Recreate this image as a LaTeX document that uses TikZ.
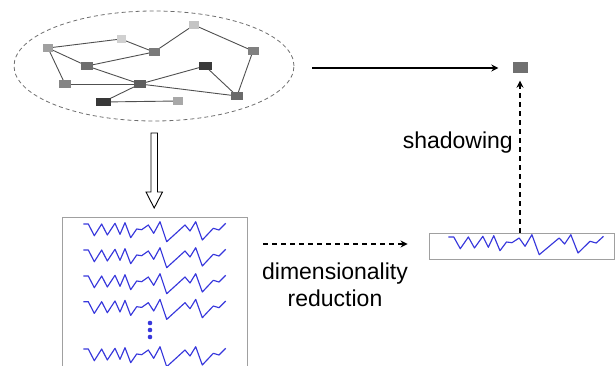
\documentclass[tikz,border=0pt]{standalone}
\usepackage{fontspec}
\setmainfont{Liberation Sans}
\usetikzlibrary{arrows.meta,calc,shapes.geometric,backgrounds}
\definecolor{serblue}{RGB}{55,55,220}
\definecolor{boxgray}{RGB}{160,160,160}
\definecolor{edgegray}{RGB}{80,80,80}
\definecolor{cloudgray}{RGB}{110,110,110}
\tikzset{
  gn/.style={rectangle, inner sep=0pt, minimum height=8.3pt, draw=none},
  edge/.style={draw=edgegray, line width=0.9pt},
  series/.style={draw=serblue, line width=1.15pt, line join=round},
  zig/.pic={\path[series] (0,0) -- (5,0) -- (11,11.7) -- (18.4,0) -- (24,11) -- (31.7,-0.7) -- (36.7,10.3) -- (41.7,-1.3) -- (47.4,13.7) -- (53.4,5) -- (58.4,5.7) -- (65,1) -- (70.4,9.3) -- (76.7,-2.3) -- (83.4,17.7) -- (101.7,1) -- (106.7,7) -- (112.4,-2.3) -- (119,16) -- (130,4.3) -- (135.7,6) -- (142.4,-0.7);},
  darrow/.style={black, line width=1.2pt, dash pattern=on 5pt off 4pt, -{Stealth[length=7pt,width=7pt]}},
  sarrow/.style={black, line width=1.2pt, -{Stealth[length=7pt,width=7pt]}},
  lbl/.style={font=\fontsize{23}{27}\selectfont, text=black, inner sep=0pt}
}
\begin{document}
\begin{tikzpicture}[x=1pt,y=-1pt]
\useasboundingbox (0,0) rectangle (615,366);
% cloud
\node[ellipse, draw=cloudgray, dash pattern=on 4pt off 3pt, line width=0.8pt, minimum width=280pt, minimum height=110pt, inner sep=0pt] (cloud) at (154,66) {};
% graph nodes
\node[gn, minimum width=10pt, fill={rgb,255:red,160;green,160;blue,160}] (n1) at (48,48) {};
\node[gn, minimum width=9pt, fill={rgb,255:red,208;green,208;blue,208}] (n2) at (121,39) {};
\node[gn, minimum width=11pt, fill={rgb,255:red,122;green,122;blue,122}] (n3) at (154,52) {};
\node[gn, minimum width=10pt, fill={rgb,255:red,196;green,196;blue,196}] (n4) at (194,25) {};
\node[gn, minimum width=11pt, fill={rgb,255:red,128;green,128;blue,128}] (n5) at (253,51) {};
\node[gn, minimum width=12.5pt, fill={rgb,255:red,110;green,110;blue,110}] (n6) at (87,66) {};
\node[gn, minimum width=13pt, fill={rgb,255:red,58;green,58;blue,58}] (n7) at (205,66) {};
\node[gn, minimum width=12pt, fill={rgb,255:red,133;green,133;blue,133}] (n8) at (65,84) {};
\node[gn, minimum width=11.5pt, fill={rgb,255:red,94;green,94;blue,94}] (n9) at (140,84) {};
\node[gn, minimum width=12pt, fill={rgb,255:red,106;green,106;blue,106}] (n10) at (237,96) {};
\node[gn, minimum width=15pt, fill={rgb,255:red,56;green,56;blue,56}] (n11) at (103,102) {};
\node[gn, minimum width=10.5pt, fill={rgb,255:red,168;green,168;blue,168}] (n12) at (178,101) {};
\begin{scope}[on background layer]
\foreach \a/\b in {n1/n2,n2/n3,n3/n4,n4/n5,n5/n10,n1/n6,n1/n8,n6/n3,n6/n9,n8/n9,n7/n9,n9/n10,n7/n10,n9/n11,n11/n12}
  \draw[edge] (\a.center) -- (\b.center);
\end{scope}
% target
\node[gn, minimum width=15pt, minimum height=11pt, fill={rgb,255:red,112;green,112;blue,112}] (target) at (520,68) {};
% hollow arrow
\draw[line width=0.9pt, fill=white, line join=miter] (151,133) -- (157.5,133) -- (157.5,192) -- (162.5,192) -- (154.2,208) -- (146,192) -- (151,192) -- cycle;
% big box
\node[draw=none, minimum width=184pt, minimum height=148pt, inner sep=0pt] (bigbox) at (155,292) {};
\draw[boxgray, line width=0.9pt] (bigbox.south west) -- (bigbox.north west) -- (bigbox.north east) -- (bigbox.south east);
\foreach \yy in {224,250,276,301.7,349} \pic at (83.3,\yy) {zig};
\foreach \yy in {323,330,337} \fill[serblue] (150,\yy) circle (2.3pt);
% small box
\node[draw=boxgray, line width=0.9pt, minimum width=185pt, minimum height=26pt, inner sep=0pt] (small) at (521.5,246) {};
\pic[xscale=1.09] at (448.3,237) {zig};
% arrows
\draw[sarrow, shorten <=18pt, shorten >=14pt] (cloud.east |- target.west) -- (target.west);
\draw[darrow, shorten <=16pt, shorten >=21pt] (bigbox.east |- 0,244) -- (small.west |- 0,244);
\draw[darrow, shorten >=7pt] (target.south |- small.north) -- (target.south);
% labels
\node[lbl, align=center] (dr) at (335,285) {dimensionality\\reduction};
\node[lbl, anchor=east] (sh) at (513,143) {shadowing};
\end{tikzpicture}
\end{document}
